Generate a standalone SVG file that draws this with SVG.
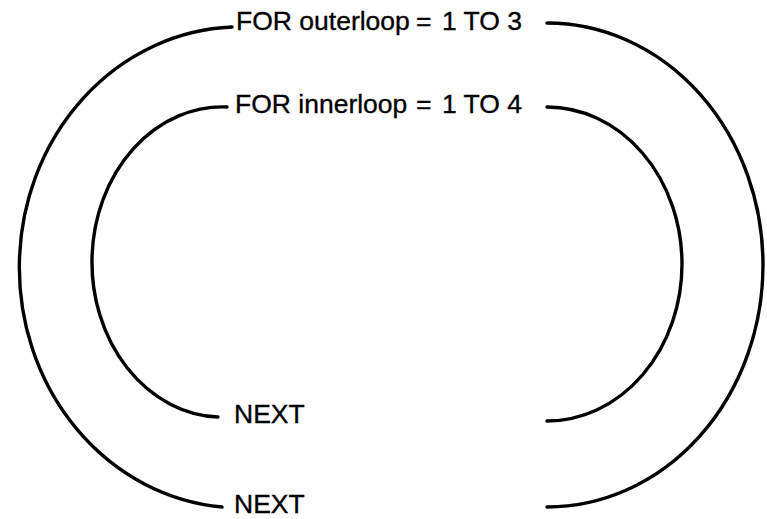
<svg xmlns="http://www.w3.org/2000/svg" width="767" height="519" viewBox="0 0 767 519">
  <style>
    .label { font-family: "Liberation Sans", Arial, sans-serif; font-size: 26.5px; fill: #000; stroke: #000; stroke-width: 0.35; }
    .arc { fill: none; stroke: #000; stroke-width: 3.4; stroke-linecap: round; }
  </style>
  <rect width="767" height="519" fill="#fff"/>

  <!-- loop brackets: outer pair and inner pair of half ellipses -->
  <g id="connectors">
    <path class="arc" d="M 232 27 A 221 240.5 0 0 0 222 507"/>
    <path class="arc" d="M 547 23 A 216 242 0 0 1 547 507"/>
    <path class="arc" d="M 227 107 A 130.5 155 0 0 0 218 417"/>
    <path class="arc" d="M 547 107 A 135 157 0 0 1 547 421"/>
  </g>

  <g id="outer-for">
    <text class="label" y="30"><tspan x="236">FOR outerloop</tspan><tspan x="416">=</tspan><tspan x="442">1 TO 3</tspan></text>
  </g>
  <g id="inner-for">
    <text class="label" y="113"><tspan x="235">FOR innerloop</tspan><tspan x="416">=</tspan><tspan x="442">1 TO 4</tspan></text>
  </g>
  <g id="inner-next">
    <text class="label" x="234" y="423">NEXT</text>
  </g>
  <g id="outer-next">
    <text class="label" x="234" y="513">NEXT</text>
  </g>
</svg>
